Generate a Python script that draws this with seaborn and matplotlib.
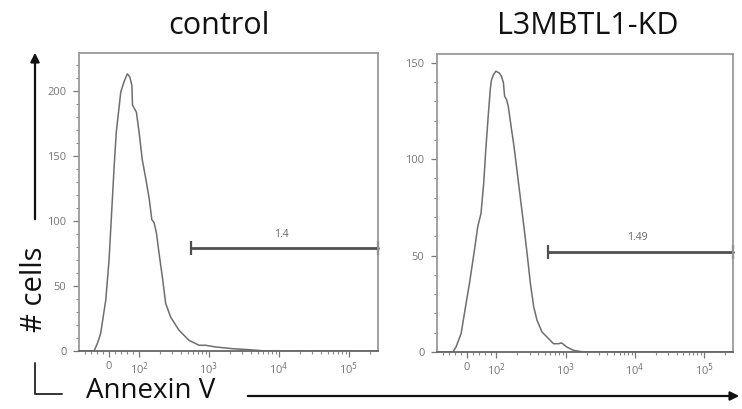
import numpy as np
import pandas as pd
import matplotlib
matplotlib.use("Agg")
import matplotlib.pyplot as plt
import seaborn as sns
from matplotlib.patches import FancyArrowPatch
from matplotlib.lines import Line2D

# Annexin V histograms (intensity, # cells)
control_x = [-100, -50, -39, -28, -11, 0, 17, 24, 39, 50, 61, 69, 76, 78, 91, 100,
             111, 125, 140, 152, 164, 177, 193, 215, 240, 283, 372, 518, 720, 896,
             1245, 2154, 3728, 6449, 262144]
control_y = [0, 0, 5.7, 13.4, 39, 70, 142, 168, 199, 207, 213, 210.6, 204, 189, 183.5, 168,
             147, 132, 116.5, 101, 98.5, 90.7, 75, 57, 36.6, 26, 16, 8.2, 4.4, 4.4,
             3.1, 1.8, 1, 0, 0]

kd_x = [-100, -47, -36, -19, -6, 9, 26, 37, 48, 57, 64, 72, 79, 83, 90, 98,
        109, 118, 126, 131, 140, 148, 160, 179, 200, 223, 249, 277, 309, 345,
        385, 454, 535, 668, 786, 877, 1033, 1290, 1794, 262144]
kd_y = [0, 0, 2.6, 9.5, 21.7, 35.5, 52.9, 65, 71.9, 87.5, 104.9, 122, 136, 141, 143.8, 145.6,
        144.7, 143, 139.5, 132.6, 130.8, 127.4, 118.7, 106.6, 92.7, 78.9, 65, 51, 35.5, 23.4,
        16.5, 10.4, 7.8, 4.3, 4.3, 4.7, 2.6, 0.9, 0, 0]

panel_titles = ["control", "L3MBTL1-KD"]
gate_start = [550, 560]
gate_level = [79, 52]
gate_pct = ["1.4", "1.49"]
y_max = [229, 154.5]
y_ticks = [[0, 50, 100, 150, 200], [0, 50, 100, 150]]
x_ticks = [0, 1e2, 1e3, 1e4, 1e5]
x_ticklabels = ["0", "10$^2$", "10$^3$", "10$^4$", "10$^5$"]

sns.set_style("white")
plt.rcParams["font.family"] = ["Open Sans", "DejaVu Sans"]

W, H = 742, 409
fig = plt.figure(figsize=(W / 100, H / 100), dpi=100)


def px(x, y):
    # pixel position (from top left) -> figure fraction
    return x / W, 1 - y / H


boxes = [(79, 53, 378, 351), (437, 54, 733, 352)]
curves = [(control_x, control_y), (kd_x, kd_y)]
minor = ([-80, -60, -40, -20, 20, 40, 60, 80]
         + [m * 10 ** e for e in range(2, 6) for m in range(2, 10)])

for i, (l, t, r, b) in enumerate(boxes):
    ax = fig.add_axes([l / W, 1 - b / H, (r - l) / W, (b - t) / H])
    xs, ys = curves[i]
    sns.lineplot(x=xs, y=ys, ax=ax, sort=False, color="#6e6e6e", lw=1.1)
    ax.set_xscale("symlog", linthresh=100, linscale=0.387)
    ax.set_xlim(-100, 262144)
    ax.set_ylim(0, y_max[i])

    ax.set_xticks(x_ticks)
    ax.set_xticklabels(x_ticklabels)
    ax.set_xticks([v for v in minor if v < 262144], minor=True)
    ax.set_yticks(y_ticks[i])
    ax.set_yticks(np.arange(10, y_max[i], 10), minor=True)
    ax.tick_params(which="major", length=4, width=0.9, color="#777777",
                   labelsize=8, labelcolor="#777777", pad=5)
    ax.tick_params(axis="x", which="major", pad=3)
    ax.tick_params(which="minor", length=2.5, width=0.8, color="#888888")
    ax.tick_params(axis="x", which="both", bottom=True)
    ax.tick_params(axis="y", which="both", left=True)
    for name, sp in ax.spines.items():
        sp.set_color("#9a9a9a")
        sp.set_linewidth(1.3)
    ax.spines["bottom"].set_color("#666666")
    ax.set_xlabel("")
    ax.set_ylabel("")

    # gate bar
    ax.plot([gate_start[i], 262144], [gate_level[i], gate_level[i]], color="#505050",
            lw=2, marker="|", markersize=10, mew=1.6, clip_on=False)
    ax.annotate(gate_pct[i], (11000, gate_level[i]), xytext=(0, 6),
                textcoords="offset points", ha="center", va="bottom",
                fontsize=7.5, color="#666666")

fig.text(*px(219, 26), panel_titles[0], ha="center", va="center", fontsize=22, color="#111111")
fig.text(*px(588, 26), panel_titles[1], ha="center", va="center", fontsize=22, color="#111111")
fig.text(*px(34, 289), "# cells", ha="center", va="center", rotation=90, fontsize=21, color="#111111")
fig.text(*px(151, 391), "Annexin V", ha="center", va="center", fontsize=20, color="#111111")

# axis arrows
fig.add_artist(FancyArrowPatch(px(35, 222), px(35, 50), transform=fig.transFigure,
                               arrowstyle="-|>", mutation_scale=13, lw=1.6, color="#111111"))
fig.add_artist(FancyArrowPatch(px(245, 396), px(742, 396), transform=fig.transFigure,
                               arrowstyle="-|>", mutation_scale=13, lw=1.6, color="#111111"))
fig.add_artist(Line2D([35 / W, 35 / W, 62 / W], [1 - 363 / H, 1 - 394 / H, 1 - 394 / H],
                      transform=fig.transFigure, color="#333333", lw=1.4))

fig.savefig("out.png", dpi=100)
